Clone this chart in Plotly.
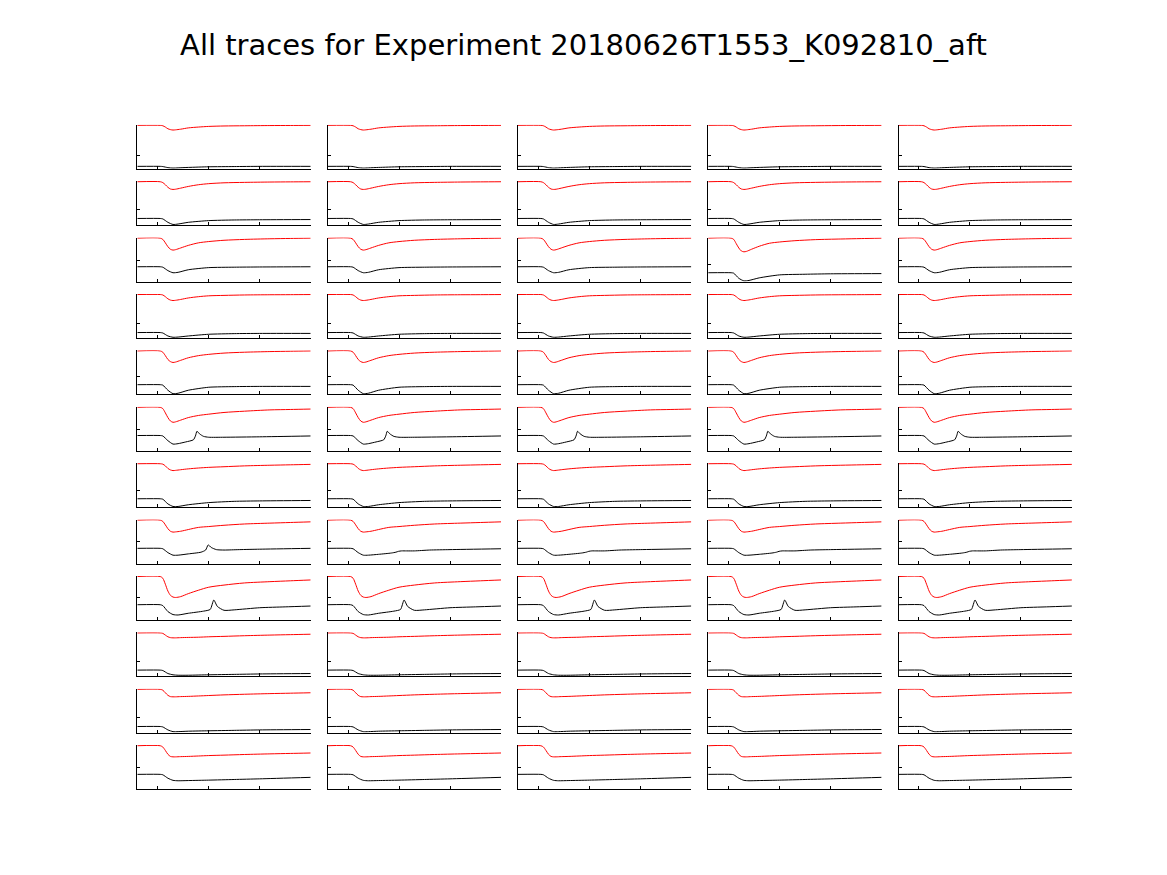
import plotly.graph_objects as go

TITLE = "All traces for Experiment 20180626T1553_K092810_aft"
N_ROWS, N_COLS = 12, 5
X_TICKS = [0, 1, 2, 3]
X_RANGE = [-0.4, 3.0]

# red trace (normalised to panel height), common x samples
RED_X = [-0.4, 0.05, 0.1, 0.15, 0.2, 0.25, 0.3, 0.35, 0.45, 0.6, 0.8, 1.0, 1.3, 1.7, 2.2, 2.6, 3.0]
RED = [
    [1, 1, 0.99, 0.96, 0.92, 0.90, 0.89, 0.895, 0.91, 0.94, 0.96, 0.975, 0.985, 0.99, 0.995, 0.997, 1.0],
    [1, 1, 0.98, 0.93, 0.87, 0.83, 0.82, 0.825, 0.85, 0.89, 0.93, 0.955, 0.975, 0.985, 0.993, 0.997, 1.0],
    [1, 1, 0.97, 0.89, 0.80, 0.74, 0.72, 0.73, 0.77, 0.83, 0.89, 0.92, 0.95, 0.97, 0.985, 0.993, 1.0],
    [1, 1, 0.99, 0.95, 0.90, 0.87, 0.86, 0.865, 0.885, 0.92, 0.95, 0.97, 0.98, 0.99, 0.995, 0.997, 1.0],
    [1, 1, 0.97, 0.89, 0.80, 0.75, 0.73, 0.74, 0.78, 0.84, 0.89, 0.92, 0.95, 0.97, 0.985, 0.993, 1.0],
    [1, 1, 0.97, 0.87, 0.76, 0.68, 0.65, 0.66, 0.70, 0.76, 0.81, 0.84, 0.88, 0.91, 0.94, 0.95, 0.96],
    [1, 1, 0.99, 0.95, 0.89, 0.855, 0.84, 0.845, 0.86, 0.88, 0.90, 0.915, 0.93, 0.95, 0.965, 0.975, 0.985],
    [1, 1, 0.97, 0.89, 0.80, 0.74, 0.72, 0.725, 0.74, 0.78, 0.83, 0.85, 0.88, 0.91, 0.93, 0.945, 0.96],
    [1, 1, 0.96, 0.82, 0.66, 0.56, 0.52, 0.51, 0.53, 0.60, 0.68, 0.75, 0.80, 0.85, 0.88, 0.90, 0.92],
    [1, 1, 0.99, 0.95, 0.91, 0.89, 0.885, 0.885, 0.89, 0.895, 0.90, 0.91, 0.92, 0.935, 0.95, 0.96, 0.97],
    [1, 1, 0.98, 0.92, 0.86, 0.83, 0.825, 0.825, 0.83, 0.835, 0.845, 0.855, 0.87, 0.885, 0.90, 0.91, 0.92],
    [1, 1, 0.97, 0.89, 0.80, 0.75, 0.74, 0.74, 0.745, 0.75, 0.76, 0.77, 0.78, 0.795, 0.81, 0.82, 0.83],
]

# black trace, common x samples for the smooth rows
BLACK_X = [-0.4, 0.05, 0.1, 0.2, 0.3, 0.4, 0.6, 1.0, 1.5, 2.0, 3.0]
BLACK = {
    0: [0.04, 0.04, 0.035, 0.01, 0.0, 0.005, 0.015, 0.03, 0.035, 0.04, 0.04],
    1: [0.14, 0.14, 0.13, 0.05, 0.0, 0.01, 0.05, 0.09, 0.105, 0.11, 0.115],
    2: [0.33, 0.33, 0.32, 0.24, 0.19, 0.20, 0.26, 0.31, 0.32, 0.325, 0.33],
    3: [0.11, 0.11, 0.10, 0.03, 0.0, 0.005, 0.03, 0.07, 0.085, 0.09, 0.09],
    4: [0.21, 0.21, 0.20, 0.08, 0.0, 0.01, 0.08, 0.15, 0.165, 0.17, 0.17],
    6: [0.18, 0.18, 0.17, 0.06, 0.0, 0.0, 0.04, 0.09, 0.12, 0.13, 0.14],
    9: [0.13, 0.13, 0.12, 0.05, 0.02, 0.01, 0.01, 0.02, 0.03, 0.04, 0.05],
    10: [0.13, 0.13, 0.12, 0.05, 0.01, 0.01, 0.02, 0.03, 0.04, 0.05, 0.06],
    11: [0.33, 0.33, 0.32, 0.24, 0.19, 0.18, 0.185, 0.195, 0.21, 0.225, 0.26],
}

# rows with a sharp peak in the black trace
ROW6_BLACK_X = [-0.4, 0.05, 0.1, 0.2, 0.3, 0.4, 0.55, 0.7, 0.74, 0.77, 0.82, 0.9, 1.0, 1.3, 2.0, 3.0]
ROW6_BLACK = [0.34, 0.34, 0.33, 0.22, 0.14, 0.15, 0.19, 0.24, 0.33, 0.44, 0.38, 0.32, 0.30, 0.30, 0.31, 0.33]
ROW8_BLACK_X = [-0.4, 0.05, 0.1, 0.2, 0.3, 0.4, 0.6, 0.85, 0.94, 0.99, 1.05, 1.15, 1.3, 1.6, 2.0, 3.0]
ROW8_BLACK_BIG = [0.34, 0.34, 0.33, 0.24, 0.18, 0.18, 0.21, 0.25, 0.30, 0.42, 0.36, 0.31, 0.30, 0.31, 0.32, 0.34]
ROW8_BLACK_SMALL = [0.34, 0.34, 0.33, 0.24, 0.18, 0.18, 0.20, 0.23, 0.25, 0.27, 0.28, 0.28, 0.28, 0.30, 0.31, 0.33]
ROW9_BLACK_X = [-0.4, 0.05, 0.1, 0.2, 0.3, 0.4, 0.6, 0.9, 1.03, 1.1, 1.17, 1.3, 1.5, 2.0, 2.5, 3.0]
ROW9_BLACK = [0.34, 0.34, 0.32, 0.18, 0.11, 0.10, 0.14, 0.19, 0.23, 0.45, 0.30, 0.21, 0.22, 0.27, 0.29, 0.31]

# panel (row 3, col 4) differs
R3C4_RED = [1, 1, 0.97, 0.87, 0.77, 0.70, 0.68, 0.69, 0.74, 0.81, 0.88, 0.91, 0.94, 0.965, 0.98, 0.99, 1.0]
R3C4_BLACK = [0.19, 0.19, 0.18, 0.06, 0.0, 0.01, 0.07, 0.14, 0.155, 0.165, 0.17]

Y_TICK = [0.30, 0.34, 0.48, 0.32, 0.40, 0.49, 0.38, 0.51, 0.50, 0.33, 0.33, 0.50]
R3C4_Y_TICK = 0.39

W, H = 1167, 875
LEFT0, COL_PITCH, PANEL_W = 137.3, 190.3, 173.4
TOP0, ROW_PITCH, PANEL_H = 124.7, 56.4, 44.0

fig = go.Figure()
for r in range(N_ROWS):
    for c in range(N_COLS):
        idx = r * N_COLS + c + 1
        xa = "x" if idx == 1 else f"x{idx}"
        ya = "y" if idx == 1 else f"y{idx}"
        red = RED[r]
        ytick = Y_TICK[r]
        if r == 5:
            bx, by = ROW6_BLACK_X, ROW6_BLACK
        elif r == 7:
            bx, by = ROW8_BLACK_X, (ROW8_BLACK_BIG if c == 0 else ROW8_BLACK_SMALL)
        elif r == 8:
            bx, by = ROW9_BLACK_X, ROW9_BLACK
        else:
            bx, by = BLACK_X, BLACK[r]
        if r == 2 and c == 3:
            red, by, ytick = R3C4_RED, R3C4_BLACK, R3C4_Y_TICK
        fig.add_trace(go.Scatter(x=RED_X, y=red, xaxis=xa, yaxis=ya, mode="lines",
                                 line=dict(color="#ff0000", width=1, shape="spline", smoothing=0.8),
                                 showlegend=False, hoverinfo="skip"))
        fig.add_trace(go.Scatter(x=bx, y=by, xaxis=xa, yaxis=ya, mode="lines",
                                 line=dict(color="#000000", width=1, shape="spline", smoothing=0.6),
                                 showlegend=False, hoverinfo="skip"))
        x0 = (LEFT0 + COL_PITCH * c) / W
        x1 = (LEFT0 + COL_PITCH * c + PANEL_W) / W
        top = TOP0 + ROW_PITCH * r
        y1 = 1 - top / H
        y0 = 1 - (top + PANEL_H) / H
        axcommon = dict(showgrid=False, zeroline=False, showline=True, linecolor="black",
                        linewidth=1, ticks="inside", ticklen=3, tickcolor="black",
                        tickwidth=1, showticklabels=False, fixedrange=True)
        key = "" if idx == 1 else str(idx)
        fig.layout["xaxis" + key] = dict(domain=[x0, x1], range=X_RANGE, tickvals=X_TICKS,
                                         anchor=ya, **axcommon)
        fig.layout["yaxis" + key] = dict(domain=[y0, y1], range=[-0.015, 1.015],
                                         tickvals=[ytick], anchor=xa, **axcommon)

fig.update_layout(
    width=W, height=H,
    margin=dict(l=0, r=0, t=0, b=0),
    paper_bgcolor="white", plot_bgcolor="white",
    title=dict(text=TITLE, x=0.5, xanchor="center", y=1 - 45 / H, yanchor="middle",
               yref="container", font=dict(family="DejaVu Sans", size=29, color="black")),
)
fig.write_html("out.html")
